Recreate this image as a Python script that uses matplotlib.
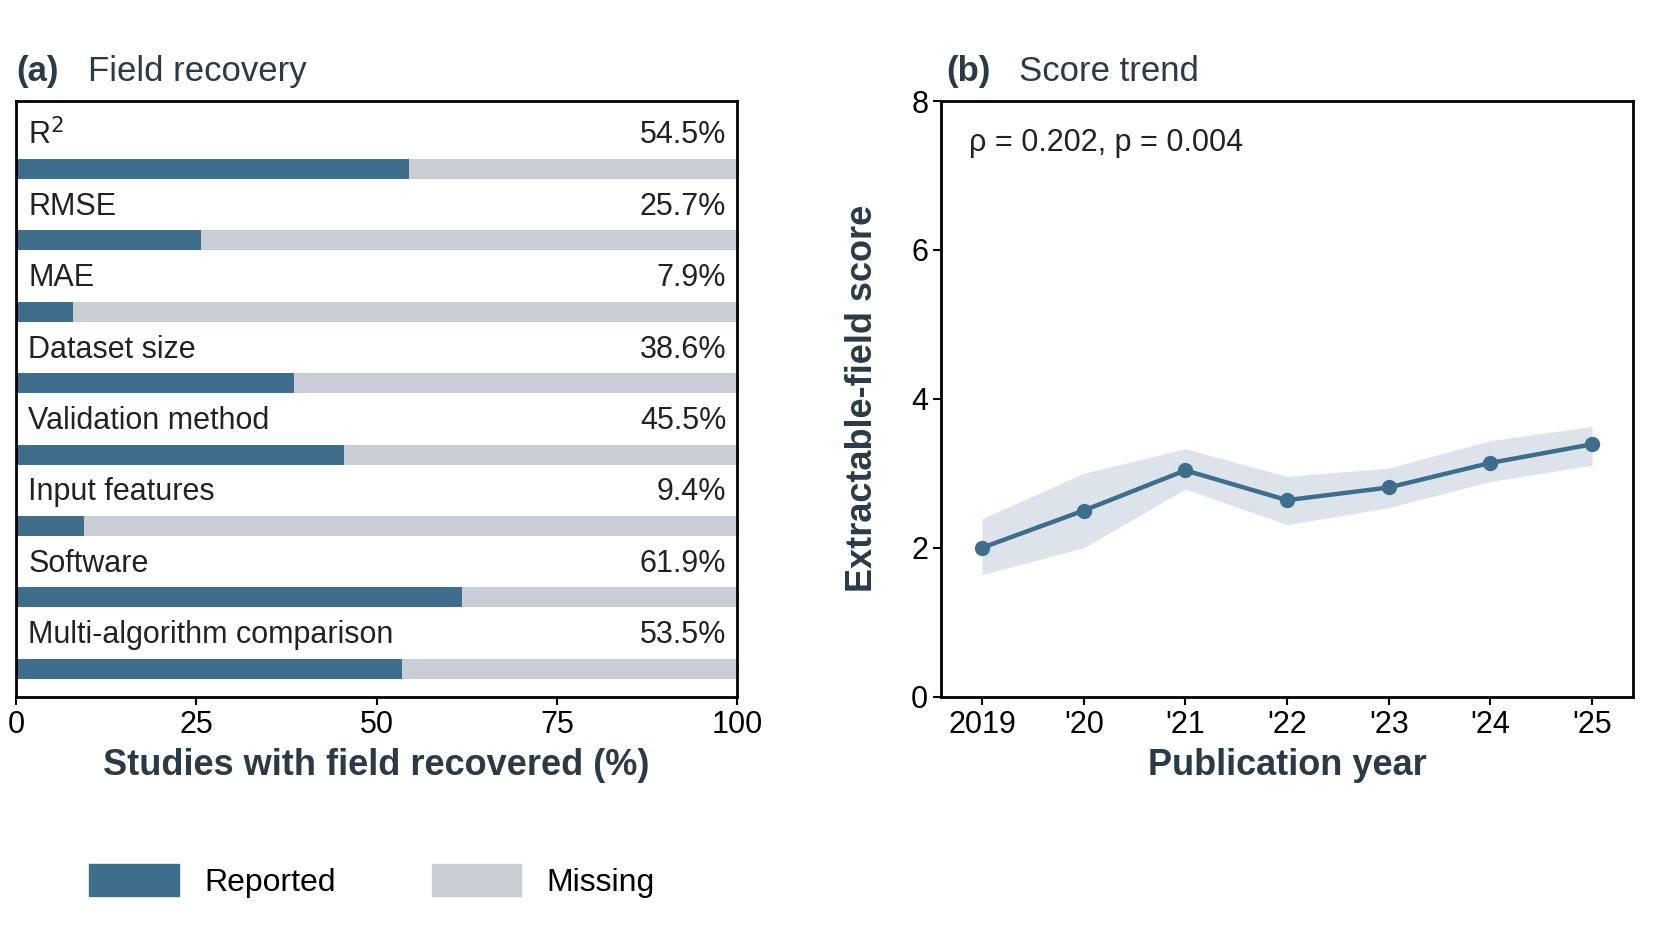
import matplotlib
matplotlib.use("Agg")
import matplotlib.pyplot as plt
from matplotlib.patches import Patch

fields = ["R$^2$", "RMSE", "MAE", "Dataset size", "Validation method",
          "Input features", "Software", "Multi-algorithm comparison"]
reported = [54.5, 25.7, 7.9, 38.6, 45.5, 9.4, 61.9, 53.5]
years = ["2019", "'20", "'21", "'22", "'23", "'24", "'25"]
score = [2.0, 2.5, 3.04, 2.64, 2.81, 3.14, 3.39]
lo = [1.64, 2.0, 2.79, 2.31, 2.54, 2.89, 3.11]
hi = [2.39, 3.0, 3.33, 2.96, 3.07, 3.44, 3.63]

C_REP = "#3f6d8c"
C_MIS = "#c8ced3"
TXT = "#2b3a47"
plt.rcParams['font.family'] = ['Arial', 'Liberation Sans', 'DejaVu Sans']

W, H = 1654, 925
S = 1654/1555
fig = plt.figure(figsize=(W/100, H/100), dpi=100)
def ax_at(x0, y0, x1, y1):
    x0, y0, x1, y1 = x0*S, y0*S, x1*S, y1*S
    return fig.add_axes([x0/W, 1-y1/H, (x1-x0)/W, (y1-y0)/H])
def fx(x): return x*S/W
def fy(y): return 1-y*S/H

ax = ax_at(15, 95, 693, 655)
ys = list(range(len(fields)))
ax.barh(ys, [100]*len(ys), height=0.28, color=C_MIS)
ax.barh(ys, reported, height=0.28, color=C_REP)
for i, (f, v) in enumerate(zip(fields, reported)):
    ax.text(1.7, i-0.47, f, fontsize=22, va="center", ha="left", color="#222")
    ax.text(98.5, i-0.47, f"{v}%", fontsize=22, va="center", ha="right", color="#222")
ax.set_ylim(7.39, -0.95)
ax.set_xlim(0, 100)
ax.set_yticks([])
ax.set_xticks([0, 25, 50, 75, 100])
ax.tick_params(axis='x', labelsize=22, width=1.5, length=6)
ax.set_xlabel("Studies with field recovered (%)", fontsize=26, fontweight="bold", color=TXT, labelpad=6)
for s in ax.spines.values():
    s.set_linewidth(2)
fig.text(fx(15), fy(67), "(a)", fontsize=25, fontweight="bold", color=TXT, va="center")
fig.text(fx(83), fy(67), "Field recovery", fontsize=25, color=TXT, va="center")

ax2 = ax_at(885, 95, 1535, 655)
x = list(range(len(years)))
ax2.fill_between(x, lo, hi, color="#dde3ea", lw=0)
ax2.plot(x, score, color=C_REP, lw=3.2, marker="o", ms=10)
ax2.set_ylim(0, 8)
ax2.set_xlim(-0.4, 6.4)
ax2.set_xticks(x, years)
ax2.set_yticks([0, 2, 4, 6, 8])
ax2.tick_params(labelsize=22, width=1.5, length=6)
ax2.set_xlabel("Publication year", fontsize=26, fontweight="bold", color=TXT, labelpad=6)
ax2.set_ylabel("Extractable-field score", fontsize=26, fontweight="bold", color=TXT, labelpad=22)
for s in ax2.spines.values():
    s.set_linewidth(2)
ax2.text(0.04, 0.93, "ρ = 0.202, p = 0.004", transform=ax2.transAxes, fontsize=22, va="center", color="#222")
fig.text(fx(890), fy(67), "(b)", fontsize=25, fontweight="bold", color=TXT, va="center")
fig.text(fx(958), fy(67), "Score trend", fontsize=25, color=TXT, va="center")

fig.legend(handles=[Patch(color=C_REP, label="Reported"), Patch(color=C_MIS, label="Missing")],
           loc="center", bbox_to_anchor=(fx(350), fy(828)), ncol=2, frameon=False,
           fontsize=23, handlelength=2.8, handleheight=1.2, columnspacing=3)
fig.savefig("out.png", dpi=100)
